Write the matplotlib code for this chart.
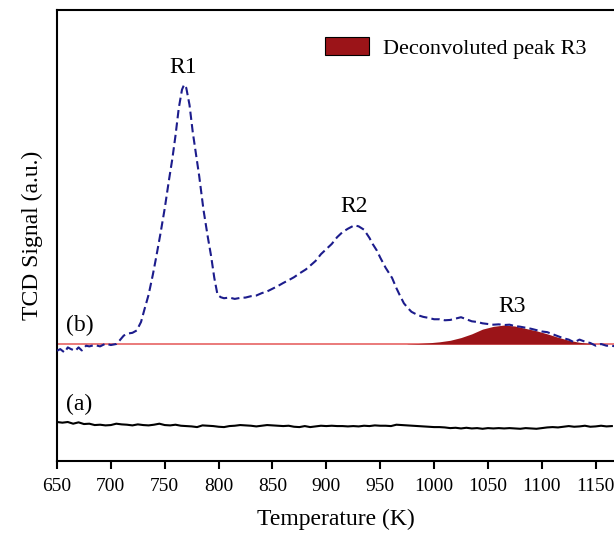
import matplotlib
matplotlib.use("Agg")
import matplotlib.pyplot as plt
from matplotlib.patches import Patch

plt.rcParams['font.family'] = ['Liberation Serif', 'DejaVu Serif']

# Sample (b): temperature (K) and TCD signal (a.u.)
temp_b = [650, 653, 657, 660, 663, 667, 670, 673, 677, 680, 685, 690, 695, 700, 705, 708,
          712, 716, 720, 724, 728, 731, 735, 739, 742, 746, 750, 754, 757, 760, 763, 766,
          768, 770, 773, 776, 779, 782, 786, 790, 793, 796, 799, 802, 805, 810, 815, 820,
          825, 830, 835, 840, 845, 850, 855, 860, 866, 870, 875, 881, 885, 890, 895, 900,
          905, 910, 915, 920, 926, 930, 935, 940, 943, 947, 950, 955, 961, 965, 968, 972,
          976, 979, 985, 990, 995, 1000, 1005, 1010, 1015, 1020, 1025, 1030, 1035, 1040,
          1045, 1050, 1055, 1060, 1065, 1070, 1075, 1080, 1085, 1090, 1095, 1100, 1105,
          1110, 1115, 1120, 1125, 1130, 1135, 1140, 1145, 1150, 1155, 1160, 1165, 1168]
signal_b = [32.5, 33.0, 32.0, 33.5, 33.0, 32.5, 33.5, 32.6, 34.0, 33.8, 34.2, 33.8, 34.6, 34.2,
            34.5, 35.5, 37.0, 37.6, 37.8, 38.5, 41.0, 44.5, 49.0, 55.0, 60.0, 67.0, 74.5, 83.0,
            89.0, 96.0, 104.0, 109.5, 111.0, 110.0, 105.0, 97.0, 90.5, 84.0, 74.0, 66.0, 60.5,
            54.0, 49.0, 48.3, 48.0, 48.2, 47.8, 48.1, 48.2, 48.6, 48.8, 49.5, 50.0, 50.8, 51.6,
            52.5, 53.5, 54.2, 55.3, 56.5, 57.6, 59.0, 61.0, 62.5, 64.0, 66.0, 67.5, 68.5, 69.5,
            69.2, 68.2, 65.8, 64.0, 62.0, 60.0, 57.0, 54.0, 51.0, 49.0, 46.5, 45.0, 44.0, 43.0,
            42.5, 42.2, 41.8, 41.8, 41.5, 41.6, 42.0, 42.4, 41.8, 41.2, 41.0, 40.6, 40.4, 40.2,
            40.3, 40.1, 40.2, 39.8, 39.6, 39.3, 39.0, 38.6, 38.2, 38.0, 37.4, 36.8, 36.2, 35.8,
            35.0, 35.8, 35.2, 34.8, 34.0, 34.5, 34.0, 34.0, 33.8]

# Sample (a)
temp_a = [650, 655, 660, 665, 670, 675, 680, 685, 690, 695, 700, 705, 710, 715, 720, 725, 730,
          735, 740, 745, 750, 755, 760, 765, 770, 775, 780, 785, 790, 795, 800, 805, 810, 815,
          820, 825, 830, 835, 840, 845, 850, 855, 860, 865, 870, 875, 880, 885, 890, 895, 900,
          905, 910, 915, 920, 925, 930, 935, 940, 945, 950, 955, 960, 965, 970, 975, 980, 985,
          990, 995, 1000, 1005, 1010, 1015, 1020, 1025, 1030, 1035, 1040, 1045, 1050, 1055,
          1060, 1065, 1070, 1075, 1080, 1085, 1090, 1095, 1100, 1105, 1110, 1115, 1120, 1125,
          1130, 1135, 1140, 1145, 1150, 1155, 1160, 1165]
signal_a = [11.5, 11.3, 11.5, 11.0, 11.4, 10.9, 11.0, 10.6, 10.7, 10.5, 10.6, 11.0, 10.8, 10.7,
            10.5, 10.8, 10.6, 10.5, 10.7, 11.0, 10.6, 10.5, 10.7, 10.4, 10.3, 10.2, 10.0, 10.5,
            10.4, 10.3, 10.1, 10.0, 10.3, 10.4, 10.6, 10.5, 10.4, 10.2, 10.4, 10.6, 10.5, 10.4,
            10.3, 10.4, 10.1, 10.0, 10.3, 10.0, 10.2, 10.4, 10.3, 10.4, 10.3, 10.3, 10.2, 10.3,
            10.2, 10.4, 10.3, 10.5, 10.4, 10.4, 10.3, 10.7, 10.6, 10.5, 10.4, 10.3, 10.2, 10.1,
            10.0, 10.0, 9.9, 9.7, 9.8, 9.6, 9.8, 9.6, 9.7, 9.5, 9.7, 9.6, 9.7, 9.6, 9.7, 9.6,
            9.5, 9.7, 9.6, 9.5, 9.7, 9.9, 10.0, 9.9, 10.1, 10.3, 10.1, 10.2, 10.4, 10.1, 10.2,
            10.4, 10.2, 10.3]

# Baseline of (b) and deconvoluted peak R3 (height above baseline)
baseline_b = 34.5
temp_r3 = [975, 985, 995, 1005, 1015, 1025, 1035, 1045, 1055, 1065, 1075, 1085, 1095, 1105,
           1115, 1125, 1135, 1145, 1150]
height_r3 = [0.05, 0.15, 0.35, 0.65, 1.1, 1.9, 3.0, 4.4, 5.2, 5.6, 5.3, 4.6, 3.9, 3.0,
             2.0, 1.1, 0.5, 0.15, 0.05]

xticks = [650, 700, 750, 800, 850, 900, 950, 1000, 1050, 1100, 1150]

fig = plt.figure(figsize=(6.14, 5.34), dpi=100)
ax = fig.add_axes([57/614, 1-461/534, 1-57/614, (461-10)/534])

red_fill = '#9b1418'
ax.axhline(baseline_b, color='#e87070', lw=1.3, zorder=2)
ax.fill_between(temp_r3, baseline_b, [baseline_b + h for h in height_r3],
                color=red_fill, lw=0, zorder=3)
ax.plot(temp_b, signal_b, color='#1c1c8c', lw=1.5, ls=(0, (4, 2)), zorder=4)
ax.plot(temp_a, signal_a, color='black', lw=1.5, zorder=4)

ax.set_xlim(650, 1167)
ax.set_ylim(0, 133)
ax.set_xticks(xticks)
ax.set_xticklabels([str(t) for t in xticks], fontsize=14)
ax.set_yticks([])
ax.tick_params(axis='x', direction='out', length=6, width=1.5, pad=6)
ax.spines['right'].set_visible(False)
for s in ['left', 'bottom', 'top']:
    ax.spines[s].set_linewidth(1.5)

ax.set_xlabel('Temperature (K)', fontsize=17, labelpad=10)
ax.set_ylabel('TCD Signal (a.u.)', fontsize=17, labelpad=10)

ax.text(767, 113, 'R1', fontsize=17, ha='center', va='bottom')
ax.text(926, 72, 'R2', fontsize=17, ha='center', va='bottom')
ax.text(1072, 42.5, 'R3', fontsize=17, ha='center', va='bottom')
ax.text(658, 37.0, '(b)', fontsize=17, ha='left', va='bottom')
ax.text(658, 13.5, '(a)', fontsize=17, ha='left', va='bottom')

handle = Patch(facecolor=red_fill, edgecolor='black', lw=0.8)
ax.legend([handle], ['Deconvoluted peak R3'], loc='upper left',
          bbox_to_anchor=(0.445, 0.985), frameon=False, fontsize=16,
          handlelength=2.0, handleheight=0.9, handletextpad=0.6)

fig.savefig('out.png', dpi=100)
